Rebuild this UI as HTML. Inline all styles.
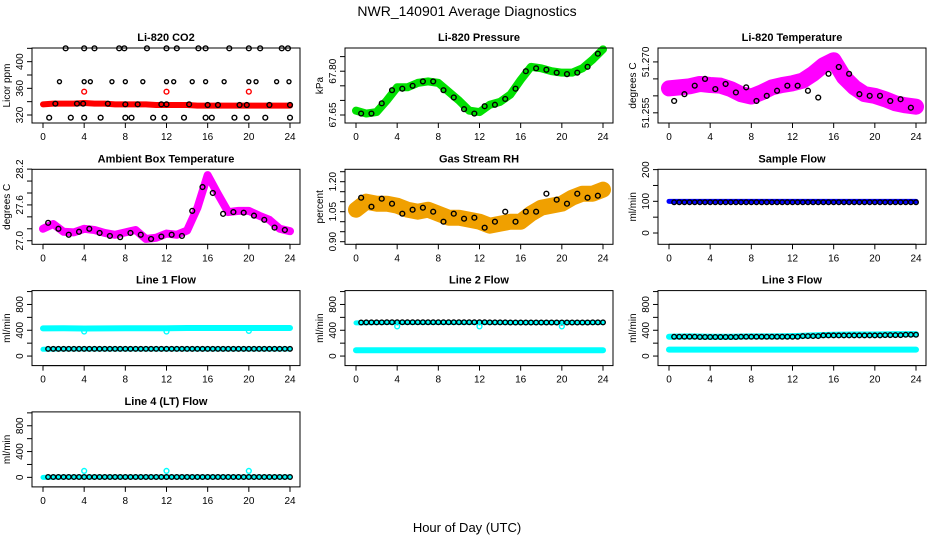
<!DOCTYPE html>
<html><head><meta charset="utf-8"><style>
html,body{margin:0;padding:0;background:#fff;}
svg text{font-family:"Liberation Sans",sans-serif;fill:#000;}
</style></head><body>
<svg id="chart" width="936" height="540" viewBox="0 0 936 540" xmlns="http://www.w3.org/2000/svg">
<text x="467" y="16" font-size="14" text-anchor="middle">NWR_140901  Average Diagnostics</text>
<text x="467" y="532" font-size="13" text-anchor="middle">Hour of Day (UTC)</text>
</svg>
<script>
// ---- shared categories ----
const hoursBand = [0,1,2,3,4,5,6,7,8,9,10,11,12,13,14,15,16,17,18,19,20,21,22,23,24];
const hoursHalf = [0.5,1.5,2.5,3.5,4.5,5.5,6.5,7.5,8.5,9.5,10.5,11.5,12.5,13.5,14.5,15.5,16.5,17.5,18.5,19.5,20.5,21.5,22.5,23.5];
const hoursFlow = [0,2,4,6,8,10,12,14,16,18,20,22,24];
const hoursFlowBlack = [0.5,1,1.5,2,2.5,3,3.5,4,4.5,5,5.5,6,6.5,7,7.5,8,8.5,9,9.5,10,10.5,11,11.5,12,12.5,13,13.5,14,14.5,15,15.5,16,16.5,17,17.5,18,18.5,19,19.5,20,20.5,21,21.5,22,22.5,23,23.5,24];
const xTicks = [0,4,8,12,16,20,24];

// ---- CO2 ----
const co2Red = [336,337,337,337,338,337,337,336,336,336,336,335,335,335,335,334,334,334,334,334,334,334,334,334,334];
const co2TopHours = [2.2,4,5,7.4,7.9,10.1,12,13,15.1,15.8,18.1,20,21.1,23.2,23.8];
const co2TopVals = [420,420,420,420,420,420,420,420,420,420,420,420,420,420,420];
const co2SqHours = [1.6,4,4.6,6.7,8,9.7,12,12.7,14.5,15.8,17.6,20,20.7,22.7,23.9];
const co2SqVals = [370,370,370,370,370,370,370,370,370,370,370,370,370,370,370];
const co2MidHours = [1.2,3.3,3.9,6.3,8,9.2,11.5,12,14.2,16,17,19.1,19.8,22,24];
const co2MidVals = [337,337,337,337,336,336,336,336,336,335,335,335,335,335,335];
const co2LowHours = [0.6,2.7,4,5.6,8,8.6,10.7,11.8,13.7,15.8,16.4,18.6,19.8,21.6,24];
const co2LowVals = [316,316,316,316,316,316,316,316,316,316,316,316,316,316,316];
const co2RedPtsHours = [4,12,20];
const co2RedPtsVals = [355,355,355];

// ---- Pressure ----
const presBand = [67.665,67.655,67.66,67.70,67.745,67.745,67.76,67.765,67.76,67.73,67.70,67.665,67.66,67.685,67.695,67.72,67.77,67.815,67.81,67.80,67.795,67.795,67.81,67.84,67.875];
const presBlack = [67.655,67.655,67.69,67.735,67.74,67.75,67.765,67.765,67.735,67.71,67.67,67.655,67.68,67.685,67.705,67.74,67.80,67.81,67.805,67.795,67.79,67.795,67.815,67.86];

// ---- Li-820 Temperature ----
const tempBand = [51.2622,51.2625,51.2628,51.2635,51.2632,51.263,51.262,51.2605,51.2598,51.261,51.2625,51.2632,51.2637,51.2645,51.2665,51.269,51.2705,51.2655,51.2625,51.2605,51.260,51.259,51.2578,51.2572,51.2568];
const tempBlack = [51.2585,51.2605,51.263,51.265,51.262,51.2635,51.261,51.2625,51.2585,51.260,51.2615,51.263,51.263,51.2615,51.2595,51.2665,51.2685,51.2665,51.2605,51.260,51.260,51.2585,51.259,51.2565];

// ---- Ambient Box Temperature ----
const ambBand = [27.2,27.28,27.15,27.14,27.2,27.18,27.13,27.1,27.14,27.18,27.03,27.05,27.12,27.1,27.17,27.55,28.1,27.78,27.48,27.5,27.5,27.42,27.35,27.2,27.16];
const ambBlack = [27.3,27.2,27.1,27.15,27.2,27.13,27.08,27.06,27.13,27.1,27.03,27.07,27.1,27.08,27.5,27.9,27.8,27.45,27.48,27.47,27.42,27.35,27.22,27.18];

// ---- Gas Stream RH ----
const rhBand = [1.06,1.10,1.09,1.09,1.08,1.06,1.05,1.06,1.04,1.02,1.02,1.01,1.00,0.98,0.99,1.00,1.00,1.04,1.07,1.08,1.09,1.12,1.14,1.14,1.16];
const rhBlack = [1.12,1.075,1.115,1.09,1.04,1.06,1.07,1.05,1.00,1.04,1.015,1.02,0.97,1.00,1.05,1.00,1.05,1.05,1.14,1.11,1.09,1.14,1.12,1.13];

// ---- Flows ----
const sampleBlue = [100,100,100,100,100,100,100,100,100,100,100,100,100];
const sampleBlack = [97,97,97,97,97,97,97,97,97,97,97,97,97];
const line1CyanHi = [430,432,428,430,432,432,432,435,435,435,435,435,435];
const line1CyanLo = [105,110,110,110,110,110,110,110,110,110,110,110,110];
const line1Black = [112,112,112,112,112,112,112,112,112,112,112,112,112];
const line2CyanHi = [515,520,520,520,520,520,520,520,520,520,520,520,520];
const line2CyanLo = [90,90,90,90,90,90,90,90,90,90,90,90,90];
const line2Black = [520,522,525,525,525,525,525,522,520,520,520,520,522];
const line3CyanHi = [300,305,300,300,305,305,310,320,330,335,335,340,340];
const line3CyanLo = [100,100,100,100,100,100,100,100,100,100,100,100,100];
const line3Black = [300,300,295,295,300,300,300,310,320,320,320,325,330];
const line4Cyan = [0,5,5,5,5,5,5,5,5,5,5,5,5];
const line4Black = [5,5,5,5,5,5,5,5,5,5,5,5,5];
const flowSpikeHours = [4,12,20];
const line1Spikes = [380,380,390];
const line2Spikes = [460,460,460];
const line4Spikes = [100,100,100];

const NS = "http://www.w3.org/2000/svg";
const svg = document.getElementById('chart');
function mk(tag, attrs, parent){const e=document.createElementNS(NS,tag);for(const k in attrs)e.setAttribute(k,attrs[k]);(parent||svg).appendChild(e);return e;}

function panel(cfg){
  const left = 32 + 313*cfg.col, top = 48 + 121.3*cfg.row, W = 268, H = 75;
  const g = mk('g',{});
  
  
  const xs = h => left + 11 + h*(247/24);
  const ys = v => top + (cfg.ylim[1]-v)/(cfg.ylim[1]-cfg.ylim[0])*H;
  const t = mk('text',{x:left+W/2,y:top-7,'font-size':11,'font-weight':'bold','text-anchor':'middle'},g);
  t.textContent = cfg.title;
  
  
  const plot = mk('g',{},g);
  
  
  cfg.draw(plot, xs, ys);
  const box = mk('rect',{x:left,y:top,width:W,height:H,fill:'none',stroke:'#000','stroke-width':1},g);
  
  
  const xa = mk('g',{},g);
  
  
  mk('line',{x1:xs(0),x2:xs(24),y1:top+H,y2:top+H,stroke:'#000'},xa);
  xTicks.forEach(h=>{
    mk('line',{x1:xs(h),x2:xs(h),y1:top+H,y2:top+H+5,stroke:'#000'},xa);
    const l = mk('text',{x:xs(h),y:top+H+17,'font-size':10,'text-anchor':'middle'},xa);
    l.textContent = h;
    
    
  });
  const ya = mk('g',{},g);
  
  
  mk('line',{x1:left,x2:left,y1:ys(cfg.yticks[0]),y2:ys(cfg.yticks[cfg.yticks.length-1]),stroke:'#000'},ya);
  cfg.yticks.forEach(v=>mk('line',{x1:left-5,x2:left,y1:ys(v),y2:ys(v),stroke:'#000'},ya));
  cfg.ylabels.forEach(v=>{
    const y = ys(v), x = left-9;
    const l = mk('text',{x:x,y:y,'font-size':10,'text-anchor':'middle',transform:`rotate(-90 ${x} ${y})`},ya);
    l.textContent = cfg.fmt ? cfg.fmt(v) : v;
    
    
  });
  const yx = left-22, yy = top+H/2;
  const yl = mk('text',{x:yx,y:yy,'font-size':10,'text-anchor':'middle',transform:`rotate(-90 ${yx} ${yy})`},g);
  yl.textContent = cfg.ylab;
  
  
}

function band(g, xs, ys, hrs, vals, color, w){
  const p = mk('polyline',{points:hrs.map((h,i)=>xs(h)+','+ys(vals[i])).join(' '),fill:'none',stroke:color,'stroke-width':w,'stroke-linejoin':'round','stroke-linecap':'round'},g);
  
  
}
function pts(g, xs, ys, hrs, vals, color, r){
  hrs.forEach((h,i)=>{
    const c = mk('circle',{cx:xs(h),cy:ys(vals[i]),r:r||2.4,fill:'none',stroke:color,'stroke-width':1.4},g);
    
    
  });
}
function flowDraw(g, xs, ys, series){
  series.forEach(s=>{
    if(s.band) band(g,xs,ys,hoursFlow,s.vals,s.color,s.w);
    else {
      const vals = hoursFlowBlack.map((h,i)=>s.vals[Math.min(12,Math.round(h/2))]);
      pts(g,xs,ys,hoursFlowBlack,vals,s.color,2.3);
    }
  });
}
const f2 = v=>v.toFixed(2), f3 = v=>v.toFixed(3), f1 = v=>v.toFixed(1);
const flowTicks=[0,200,400,600,800,1000], flowLabels=[0,400,800], flowLim=[-148,1015];

panel({name:'co2',title:'Li-820 CO2',col:0,row:0,ylim:[308,420.5],yticks:[320,340,360,380,400,420],ylabels:[320,360,400],ylab:'Licor ppm',
  draw:(g,xs,ys)=>{band(g,xs,ys,hoursBand,co2Red,'#ff0000',6);pts(g,xs,ys,co2TopHours,co2TopVals,'#000');pts(g,xs,ys,co2SqHours,co2SqVals,'#000',2);pts(g,xs,ys,co2MidHours,co2MidVals,'#000');pts(g,xs,ys,co2LowHours,co2LowVals,'#000');pts(g,xs,ys,co2RedPtsHours,co2RedPtsVals,'#ff0000');}});
panel({name:'pressure',title:'Li-820 Pressure',col:1,row:0,ylim:[67.6226,67.8795],yticks:[67.65,67.70,67.75,67.80,67.85],ylabels:[67.65,67.80],ylab:'kPa',fmt:f2,
  draw:(g,xs,ys)=>{band(g,xs,ys,hoursBand,presBand,'#00e000',8);pts(g,xs,ys,hoursHalf,presBlack,'#000');}});
panel({name:'li820-temperature',title:'Li-820 Temperature',col:2,row:0,ylim:[51.252,51.2741],yticks:[51.255,51.26,51.265,51.27],ylabels:[51.255,51.270],ylab:'degrees C',fmt:f3,
  draw:(g,xs,ys)=>{band(g,xs,ys,hoursBand,tempBand,'#ff00ff',16);pts(g,xs,ys,hoursHalf,tempBlack,'#000');}});
panel({name:'ambient-temperature',title:'Ambient Box Temperature',col:0,row:1,ylim:[26.94,28.197],yticks:[27.0,27.2,27.4,27.6,27.8,28.0,28.2],ylabels:[27.0,27.6,28.2],ylab:'degrees C',fmt:f1,
  draw:(g,xs,ys)=>{band(g,xs,ys,hoursBand,ambBand,'#ff00ff',8);pts(g,xs,ys,hoursHalf,ambBlack,'#000');}});
panel({name:'gas-rh',title:'Gas Stream RH',col:1,row:1,ylim:[0.887,1.262],yticks:[0.90,0.95,1.00,1.05,1.10,1.15,1.20,1.25],ylabels:[0.90,1.05,1.20],ylab:'percent',fmt:f2,
  draw:(g,xs,ys)=>{band(g,xs,ys,hoursBand,rhBand,'#f0a000',16);pts(g,xs,ys,hoursHalf,rhBlack,'#000');}});
panel({name:'sample-flow',title:'Sample Flow',col:2,row:1,ylim:[-35.6,201],yticks:[0,50,100,150,200],ylabels:[0,100,200],ylab:'ml/min',
  draw:(g,xs,ys)=>flowDraw(g,xs,ys,[{band:1,vals:sampleBlue,color:'#0000ff',w:5},{vals:sampleBlack,color:'#000'}])});
panel({name:'line1-flow',title:'Line 1 Flow',col:0,row:2,ylim:flowLim,yticks:flowTicks,ylabels:flowLabels,ylab:'ml/min',
  draw:(g,xs,ys)=>{flowDraw(g,xs,ys,[{band:1,vals:line1CyanHi,color:'#00ffff',w:6},{band:1,vals:line1CyanLo,color:'#00ffff',w:5},{vals:line1Black,color:'#000'}]);pts(g,xs,ys,flowSpikeHours,line1Spikes,'#00ffff');}});
panel({name:'line2-flow',title:'Line 2 Flow',col:1,row:2,ylim:flowLim,yticks:flowTicks,ylabels:flowLabels,ylab:'ml/min',
  draw:(g,xs,ys)=>{flowDraw(g,xs,ys,[{band:1,vals:line2CyanHi,color:'#00ffff',w:5},{band:1,vals:line2CyanLo,color:'#00ffff',w:6},{vals:line2Black,color:'#000'}]);pts(g,xs,ys,flowSpikeHours,line2Spikes,'#00ffff');}});
panel({name:'line3-flow',title:'Line 3 Flow',col:2,row:2,ylim:flowLim,yticks:flowTicks,ylabels:flowLabels,ylab:'ml/min',
  draw:(g,xs,ys)=>flowDraw(g,xs,ys,[{band:1,vals:line3CyanHi,color:'#00ffff',w:6},{band:1,vals:line3CyanLo,color:'#00ffff',w:6},{vals:line3Black,color:'#000'}])});
panel({name:'line4-flow',title:'Line 4 (LT) Flow',col:0,row:3,ylim:flowLim,yticks:flowTicks,ylabels:flowLabels,ylab:'ml/min',
  draw:(g,xs,ys)=>{flowDraw(g,xs,ys,[{band:1,vals:line4Cyan,color:'#00ffff',w:5},{vals:line4Black,color:'#000'}]);pts(g,xs,ys,flowSpikeHours,line4Spikes,'#00ffff');}});
</script>
</body></html>
